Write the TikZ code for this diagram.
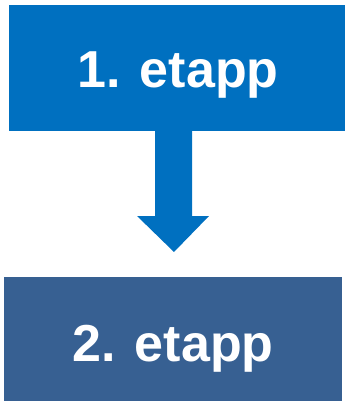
\documentclass[tikz,border=0pt]{standalone}
\usepackage{fontspec}
\setmainfont{Liberation Sans}
\definecolor{topblue}{HTML}{0070C0}
\definecolor{botblue}{HTML}{376092}
\begin{document}
\begin{tikzpicture}[x=1pt,y=-1pt,
  stage/.style={inner sep=0pt, text=white, font=\fontsize{52}{60}\selectfont\bfseries, anchor=base},
  box/.style={draw=none}]
\useasboundingbox (0,0) rectangle (345,401);
\fill[topblue] (9,5) rectangle (345,131);
\fill[botblue] (4,277) rectangle (342,401);
\coordinate (ts) at (155,131);
\fill[topblue] (155,130) -- (192,130) -- (192,216) -- (209,216) -- (174,252) -- (137,216) -- (155,216) -- cycle;
\node[stage] (s1) at (178,88) {1. etapp};
\node[stage] (s2) at (173,361) {2. etapp};
\end{tikzpicture}
\end{document}
